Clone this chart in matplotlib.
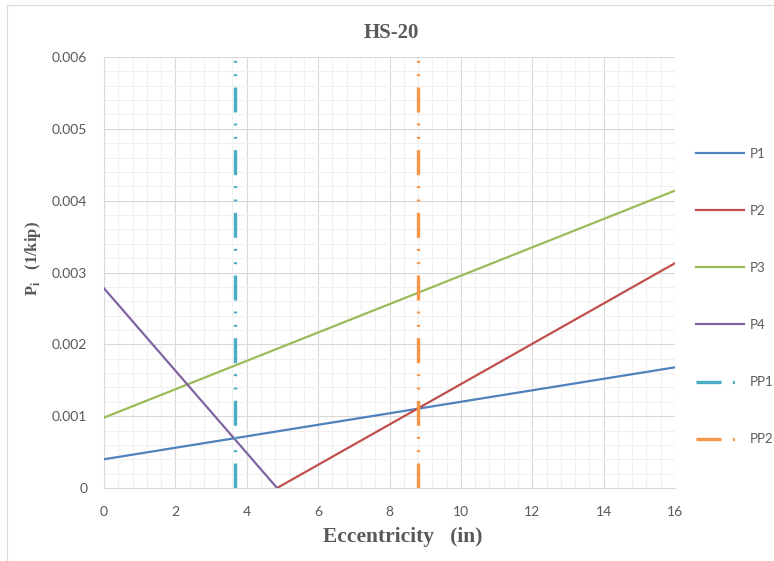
import matplotlib.pyplot as plt
from matplotlib.ticker import MultipleLocator, FuncFormatter
from matplotlib.patches import Rectangle

# 数据
p1_x = [0, 16]
p1_y = [0.0004, 0.00168]
p2_x = [4.85, 16]
p2_y = [0, 0.00313]
p3_x = [0, 16]
p3_y = [0.00098, 0.00414]
p4_x = [0, 4.85]
p4_y = [0.00278, 0]
pp1_x = [3.68, 3.68]
pp1_y = [0, 0.006]
pp2_x = [8.8, 8.8]
pp2_y = [0, 0.006]

x_ticks = [0, 2, 4, 6, 8, 10, 12, 14, 16]
y_ticks = [0, 0.001, 0.002, 0.003, 0.004, 0.005, 0.006]

grey = '#595959'
tick_font = 'Lato'
serif = 'Liberation Serif'

fig = plt.figure(figsize=(7.74, 5.61), dpi=100)
ax = fig.add_axes([104 / 774, 1 - 488 / 561, 571 / 774, 431 / 561])

# 图表区边框
fig.patches.append(Rectangle((7 / 774, -0.01), 1.0, 1 - 5 / 561 + 0.01,
                             transform=fig.transFigure, fill=False,
                             edgecolor='#D9D9D9', linewidth=0.8))

lw = 1.6
ax.plot(p1_x, p1_y, color='#4F81BD', lw=lw, label='P1', zorder=3)
ax.plot(p2_x, p2_y, color='#C0504D', lw=lw, label='P2', zorder=3)
ax.plot(p3_x, p3_y, color='#9BBB59', lw=lw, label='P3', zorder=3)
ax.plot(p4_x, p4_y, color='#8064A2', lw=lw, label='P4', zorder=3)

# 长划-点-点 线型
dashdotdot = (0, (7.5, 3.4, 0.6, 3.4, 0.6, 3.3))
ax.plot(pp1_x, pp1_y, color='#4BACC6', lw=2.4, linestyle=dashdotdot,
        dash_capstyle='butt', label='PP1', zorder=3)
ax.plot(pp2_x, pp2_y, color='#F79646', lw=2.4, linestyle=dashdotdot,
        dash_capstyle='butt', label='PP2', zorder=3)

ax.set_xlim(0, 16)
ax.set_ylim(0, 0.006)
ax.set_xticks(x_ticks)
ax.set_yticks(y_ticks)
ax.xaxis.set_minor_locator(MultipleLocator(0.4))
ax.yaxis.set_minor_locator(MultipleLocator(0.0002))
ax.yaxis.set_major_formatter(FuncFormatter(lambda v, p: '0' if v == 0 else f'{v:.3f}'))

ax.grid(which='major', color='#D9D9D9', lw=0.8, zorder=0)
ax.grid(which='minor', color='#F0F0F0', lw=0.8, zorder=0)
ax.set_axisbelow(True)
for s in ['top', 'right']:
    ax.spines[s].set_visible(False)
for s in ['left', 'bottom']:
    ax.spines[s].set_color('#D9D9D9')
    ax.spines[s].set_linewidth(0.8)
ax.tick_params(which='both', length=0, colors=grey, labelsize=10)
ax.tick_params(axis='x', pad=13)
ax.tick_params(axis='y', pad=12)
for t in ax.get_xticklabels() + ax.get_yticklabels():
    t.set_fontfamily(tick_font)

fig.text(391 / 774, 1 - 33 / 561, 'HS-20', ha='center', va='center',
         fontsize=15, fontweight='bold', color=grey, family=serif)
fig.text(403 / 774, 1 - 537 / 561, 'Eccentricity   (in)', ha='center', va='center',
         fontsize=15.5, fontweight='bold', color=grey, family=serif)
fig.text(33 / 774, 1 - 259 / 561, r'P$_\mathregular{i}$   (1/kip)', ha='center', va='center',
         rotation=90, fontsize=12, fontweight='bold', color=grey, family=serif)

fig.legend(loc='center left', bbox_to_anchor=(696 / 774, 1 - 296.5 / 561),
           bbox_transform=fig.transFigure, frameon=False, borderaxespad=0,
           borderpad=0, handlelength=3.6, handletextpad=0.45, labelspacing=3.42,
           prop={'family': tick_font, 'size': 9.5}, labelcolor=grey)

fig.savefig('out.png', dpi=100)
